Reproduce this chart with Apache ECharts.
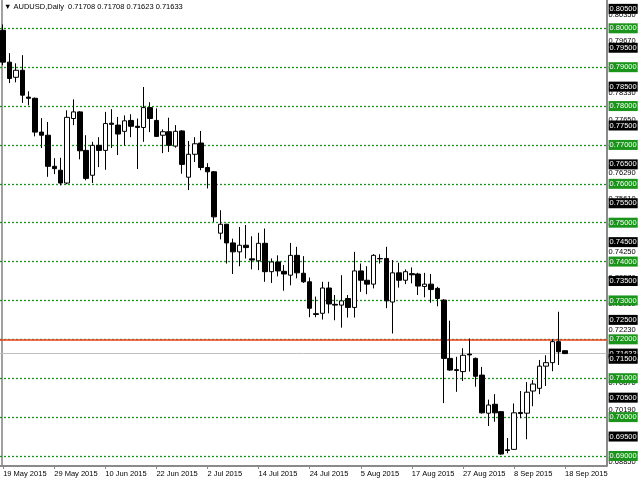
<!DOCTYPE html>
<html><head><meta charset="utf-8">
<script src="https://cdn.jsdelivr.net/npm/echarts@6/dist/echarts.min.js"></script>
<style>html,body{margin:0;padding:0;background:#fff}#c{width:640px;height:480px}</style>
</head><body><div id="c"></div>
<script>
const dates = [
'19 May 2015','20 May 2015','21 May 2015','22 May 2015','25 May 2015','26 May 2015','27 May 2015','28 May 2015','29 May 2015',
'1 Jun 2015','2 Jun 2015','3 Jun 2015','4 Jun 2015','5 Jun 2015','8 Jun 2015','9 Jun 2015','10 Jun 2015','11 Jun 2015','12 Jun 2015',
'15 Jun 2015','16 Jun 2015','17 Jun 2015','18 Jun 2015','19 Jun 2015','22 Jun 2015','23 Jun 2015','24 Jun 2015','25 Jun 2015','26 Jun 2015',
'29 Jun 2015','30 Jun 2015',
'1 Jul 2015','2 Jul 2015','3 Jul 2015','6 Jul 2015','7 Jul 2015','8 Jul 2015','9 Jul 2015','10 Jul 2015','13 Jul 2015','14 Jul 2015',
'15 Jul 2015','16 Jul 2015','17 Jul 2015','20 Jul 2015','21 Jul 2015','22 Jul 2015','23 Jul 2015','24 Jul 2015','27 Jul 2015','28 Jul 2015',
'29 Jul 2015','30 Jul 2015','31 Jul 2015',
'3 Aug 2015','4 Aug 2015','5 Aug 2015','6 Aug 2015','7 Aug 2015','10 Aug 2015','11 Aug 2015','12 Aug 2015','13 Aug 2015','14 Aug 2015',
'17 Aug 2015','18 Aug 2015','19 Aug 2015','20 Aug 2015','21 Aug 2015','24 Aug 2015','25 Aug 2015','26 Aug 2015','27 Aug 2015','28 Aug 2015',
'31 Aug 2015',
'1 Sep 2015','2 Sep 2015','3 Sep 2015','4 Sep 2015','7 Sep 2015','8 Sep 2015','9 Sep 2015','10 Sep 2015','11 Sep 2015','14 Sep 2015',
'15 Sep 2015','16 Sep 2015','17 Sep 2015','18 Sep 2015'
];
const emptySlots = ['', '', '', '', '', ''];

const opens = [
0.7995,0.7913,0.7874,0.7892,0.7823,0.7820,0.7733,0.7725,0.7645,0.7635,
0.7602,0.7768,0.7785,0.7686,0.7622,0.7699,0.7686,0.7756,0.7751,0.7735,
0.7763,0.7748,0.7745,0.7796,0.7763,0.7725,0.7734,0.7697,0.7736,0.7617,
0.7676,0.7705,0.7642,0.7631,0.7473,0.7496,0.7448,0.7425,0.7442,0.7407,
0.7402,0.7447,0.7374,0.7399,0.7375,0.7365,0.7416,0.7370,0.7348,0.7266,
0.7267,0.7332,0.7290,0.7288,0.7305,0.7282,0.7376,0.7352,0.7342,0.7408,
0.7408,0.7296,0.7371,0.7352,0.7369,0.7368,0.7336,0.7342,0.7331,0.7301,
0.7151,0.7122,0.7117,0.7162,0.7151,0.7108,0.7010,0.7033,0.7014,0.6916,
0.6917,0.7012,0.7010,0.7067,0.7074,0.7131,0.7140,0.7194,0.71708
];
const highs = [
0.8010,0.7936,0.7910,0.7931,0.7838,0.7822,0.7769,0.7759,0.7666,0.7667,
0.7789,0.7817,0.7787,0.7725,0.7708,0.7720,0.7785,0.7792,0.7772,0.7776,
0.7779,0.7768,0.7849,0.7810,0.7794,0.7740,0.7770,0.7751,0.7738,0.7710,
0.7720,0.7736,0.7653,0.7633,0.7532,0.7497,0.7459,0.7489,0.7494,0.7465,
0.7474,0.7485,0.7408,0.7416,0.7391,0.7448,0.7438,0.7414,0.7359,0.7310,
0.7348,0.7348,0.7314,0.7365,0.7314,0.7425,0.7395,0.7388,0.7419,0.7419,
0.7438,0.7404,0.7397,0.7380,0.7385,0.7371,0.7371,0.7368,0.7335,0.7303,
0.7248,0.7155,0.7177,0.7202,0.7153,0.7129,0.7045,0.7059,0.7015,0.6946,
0.7035,0.7067,0.7090,0.7095,0.7147,0.7159,0.7200,0.7271,0.71708
];
const lows = [
0.7905,0.7859,0.7861,0.7808,0.7802,0.7722,0.7692,0.7618,0.7625,0.7596,
0.7599,0.7751,0.7663,0.7609,0.7602,0.7643,0.7636,0.7692,0.7674,0.7699,
0.7720,0.7638,0.7708,0.7733,0.7721,0.7679,0.7682,0.7693,0.7626,0.7584,
0.7656,0.7635,0.7588,0.7502,0.7457,0.7395,0.7368,0.7388,0.7408,0.7380,
0.7378,0.7348,0.7345,0.7362,0.7325,0.7339,0.7357,0.7345,0.7257,0.7257,
0.7251,0.7267,0.7249,0.7230,0.7256,0.7256,0.7322,0.7316,0.7331,0.7395,
0.7280,0.7215,0.7333,0.7342,0.7344,0.7314,0.7308,0.7294,0.7285,0.7036,
0.7119,0.7065,0.7093,0.7117,0.7078,0.7009,0.6977,0.6988,0.6903,0.6907,
0.6916,0.6997,0.6943,0.7028,0.7059,0.7080,0.7118,0.7134,0.71623
];
const closes = [
0.7913,0.7871,0.7892,0.7828,0.7820,0.7733,0.7725,0.7645,0.7639,0.7602,
0.7771,0.7785,0.7685,0.7614,0.7699,0.7686,0.7755,0.7753,0.7728,0.7762,
0.7748,0.7745,0.7796,0.7768,0.7722,0.7734,0.7699,0.7735,0.7650,0.7676,
0.7703,0.7642,0.7631,0.7515,0.7496,0.7448,0.7425,0.7442,0.7436,0.7404,
0.7447,0.7374,0.7399,0.7376,0.7368,0.7416,0.7371,0.7348,0.7280,0.7264,
0.7332,0.7291,0.7288,0.7299,0.7282,0.7376,0.7352,0.7342,0.7416,0.7407,
0.7299,0.7371,0.7352,0.7374,0.7366,0.7337,0.7342,0.7328,0.7305,0.7151,
0.7121,0.7120,0.7159,0.7160,0.7105,0.7011,0.7031,0.7011,0.6905,0.6914,
0.7011,0.7009,0.7064,0.7085,0.7131,0.7140,0.7194,0.7168,0.71633
];

const gridLevels = [0.80,0.79,0.78,0.77,0.76,0.75,0.74,0.73,0.72,0.71,0.70,0.69];
const halfLevels = [0.805,0.795,0.785,0.775,0.765,0.755,0.745,0.735,0.725,0.715,0.705,0.695];
const scaleLabels = [0.80350,0.79670,0.78990,0.78330,0.77650,0.76970,0.76290,0.75610,0.74930,0.74250,
                     0.73570,0.72910,0.72230,0.71550,0.70870,0.70190,0.69510,0.68850];
const redLevel = 0.72;
const bidPrice = 0.71633;
const titleText = '\u25BC AUDUSD,Daily  0.71708 0.71708 0.71623 0.71633';

const FONT = 'Liberation Sans';
const FS = 7.5;
const GREEN = '#1a941a';
const NOLINE = { color: 'rgba(255,255,255,0)', width: 0, type: 'solid' };
const fmt = p => Number(p.value).toFixed(5);

const cats = dates.concat(emptySlots);
const ohlc = opens.map((o, i) => [o, closes[i], lows[i], highs[i]]);

const boxLabel = (bg) => ({
  show: true, position: 'end', distance: 2, formatter: fmt,
  color: '#fff', backgroundColor: bg, padding: [1, 1, 0, 1],
  fontFamily: FONT, fontSize: FS, lineHeight: 9
});
const plainLabel = {
  show: true, position: 'end', distance: 2, formatter: fmt,
  color: '#000', fontFamily: FONT, fontSize: FS
};

const levelItems = []
  .concat(scaleLabels.map(v => ({ yAxis: v, lineStyle: NOLINE, label: plainLabel })))
  .concat(gridLevels.map(v => ({ yAxis: v, lineStyle: { color: GREEN, type: [2, 2], width: 1.3 }, label: boxLabel(GREEN) })))
  .concat([{ yAxis: bidPrice, lineStyle: { color: '#c0c0c0', type: 'solid', width: 1 }, label: boxLabel('#000') }])
  .concat(halfLevels.map(v => ({ yAxis: v, lineStyle: NOLINE, label: boxLabel('#000') })));

const chart = echarts.init(document.getElementById('c'), null, { renderer: 'canvas' });
chart.setOption({
  animation: false,
  backgroundColor: '#fff',
  title: { text: titleText, left: 4, top: 3, padding: 0, textStyle: { fontFamily: FONT, fontSize: FS, fontWeight: 'normal', color: '#000' } },
  grid: { left: -0.4, width: 607, top: 0, bottom: 14, containLabel: false },
  xAxis: {
    type: 'category', data: cats, boundaryGap: true,
    axisLine: { lineStyle: { color: '#8a8a8a', width: 2 } },
    axisTick: { show: true, interval: 7, alignWithLabel: true, length: 3, lineStyle: { color: '#8a8a8a' } },
    axisLabel: { interval: 7, align: 'left', margin: 4, fontFamily: FONT, fontSize: FS, color: '#000' },
    splitLine: { show: false }
  },
  yAxis: [
    { type: 'value', position: 'right', min: 0.68742, max: 0.80728, scale: true,
      axisLine: { show: true, lineStyle: { color: '#8a8a8a', width: 2 } },
      axisTick: { show: false }, axisLabel: { show: false }, splitLine: { show: false } },
    { type: 'value', position: 'left', offset: -2, min: 0.68742, max: 0.80728, scale: true,
      axisLine: { show: true, lineStyle: { color: '#a0a0a0', width: 2 } },
      axisTick: { show: false }, axisLabel: { show: false }, splitLine: { show: false } }
  ],
  series: [
    {
      name: 'levels', type: 'line', data: [], z: 1,
      markLine: { symbol: ['none', 'none'], silent: true, animation: false, z: 1, precision: 5, data: levelItems }
    },
    {
      name: 'resistance', type: 'line', data: [], z: 2,
      markLine: { symbol: ['none', 'none'], silent: true, animation: false, z: 2, precision: 5,
        lineStyle: { color: '#e8401c', type: 'solid', width: 1.5 }, label: { show: false },
        data: [{ yAxis: redLevel }] }
    },
    {
      name: 'AUDUSD', type: 'candlestick', data: ohlc, barWidth: 5, z: 10,
      itemStyle: { color: '#ffffff', color0: '#000000', borderColor: '#000000', borderColor0: '#000000', borderWidth: 1 }
    }
  ]
});
</script></body></html>
